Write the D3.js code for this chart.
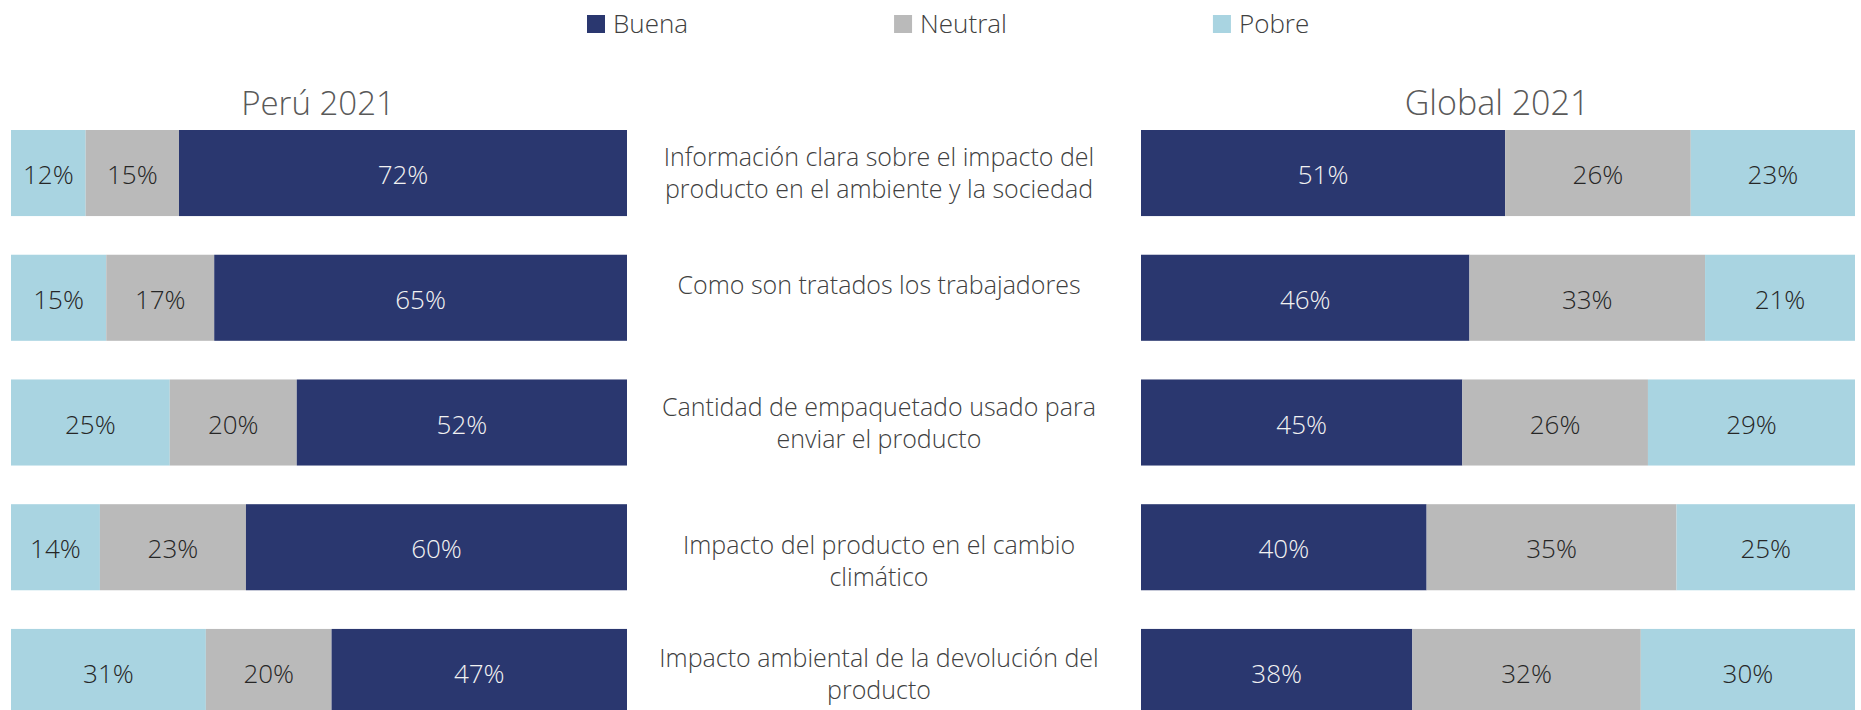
<!DOCTYPE html>
<html>
<head>
<meta charset="utf-8">
<script src="https://cdn.jsdelivr.net/npm/d3@7"></script>
<style>
  html, body { margin: 0; padding: 0; background: #ffffff; }
  svg { display: block; font-family: "Open Sans", "Noto Sans", sans-serif; font-weight: 300; }
</style>
</head>
<body>
<svg id="chart" width="1861" height="710"></svg>
<script>
// Survey rows: each statement has a label split into display lines
const categories = [
  "Información clara sobre el impacto del producto en el ambiente y la sociedad",
  "Como son tratados los trabajadores",
  "Cantidad de empaquetado usado para enviar el producto",
  "Impacto del producto en el cambio climático",
  "Impacto ambiental de la devolución del producto"
];
const categoryLines = [
  ["Información clara sobre el impacto del", "producto en el ambiente y la sociedad"],
  ["Como son tratados los trabajadores"],
  ["Cantidad de empaquetado usado para", "enviar el producto"],
  ["Impacto del producto en el cambio", "climático"],
  ["Impacto ambiental de la devolución del", "producto"]
];

const seriesNames = ["Buena", "Neutral", "Pobre"];

// Perú 2021 shares (%)
const peruBuena   = [72, 65, 52, 60, 47];
const peruNeutral = [15, 17, 20, 23, 20];
const peruPobre   = [12, 15, 25, 14, 31];

// Global 2021 shares (%)
const globalBuena   = [51, 46, 45, 40, 38];
const globalNeutral = [26, 33, 26, 35, 32];
const globalPobre   = [23, 21, 29, 25, 30];

const panelTitles = ["Perú 2021", "Global 2021"];

const colors = { Buena: "#2a376f", Neutral: "#bababa", Pobre: "#a9d4e1" };
const valueTextColor = { Buena: "#f2f2f2", Neutral: "#262626", Pobre: "#262626" };

const svg = d3.select("#chart");

const y = d3.scaleBand()
  .domain(categories)
  .range([130, 715])
  .paddingInner(0.31)
  .paddingOuter(0);

function rowsFor(buena, neutral, pobre) {
  return categories.map((c, i) => ({ category: c, Buena: buena[i], Neutral: neutral[i], Pobre: pobre[i] }));
}

// Draws one 100% stacked panel; keys give the left-to-right segment order
function drawPanel(rows, keys, x0, x1, title, titleSize) {
  const x = d3.scaleLinear().domain([0, 1]).range([x0, x1]);
  const stacked = d3.stack().keys(keys).offset(d3.stackOffsetExpand)(rows);
  const g = svg.append("g");

  const layer = g.selectAll("g.layer")
    .data(stacked)
    .join("g")
    .attr("class", "layer")
    .attr("fill", d => colors[d.key]);

  layer.selectAll("rect")
    .data(d => d.map(seg => Object.assign(seg, { key: d.key })))
    .join("rect")
    .attr("x", d => x(d[0]))
    .attr("width", d => x(d[1]) - x(d[0]))
    .attr("y", d => y(d.data.category))
    .attr("height", y.bandwidth());

  layer.selectAll("text")
    .data(d => d)
    .join("text")
    .attr("x", d => (x(d[0]) + x(d[1])) / 2)
    .attr("y", d => y(d.data.category) + y.bandwidth() / 2 + 11)
    .attr("text-anchor", "middle")
    .attr("font-size", 26)
    .attr("fill", d => valueTextColor[d.key])
    .text(d => d.data[d.key] + "%");

  g.append("text")
    .attr("x", (x0 + x1) / 2 - 1)
    .attr("y", 115)
    .attr("text-anchor", "middle")
    .attr("font-size", titleSize)
    .attr("fill", "#595959")
    .text(title);
}

drawPanel(rowsFor(peruBuena, peruNeutral, peruPobre), ["Pobre", "Neutral", "Buena"], 11, 627, panelTitles[0], 33);
drawPanel(rowsFor(globalBuena, globalNeutral, globalPobre), ["Buena", "Neutral", "Pobre"], 1141, 1855, panelTitles[1], 34);

// Statement labels in the centre column, top-aligned to each bar
const labelX = 879;
const lineGap = 32;
const labelNudge = [0, 3, 0, 14, 2];
const labels = svg.append("g")
  .selectAll("text")
  .data(categories)
  .join("text")
  .attr("text-anchor", "middle")
  .attr("font-size", 25)
  .attr("fill", "#404040");

labels.each(function(c, i) {
  const lines = categoryLines[i];
  const mid = y(c) + y.bandwidth() / 2;
  const firstBaseline = mid - 7 + labelNudge[i];
  d3.select(this).selectAll("tspan")
    .data(lines)
    .join("tspan")
    .attr("x", labelX)
    .attr("y", (l, j) => firstBaseline + j * lineGap)
    .text(l => l);
});

// Legend
const legend = svg.append("g");
let lx = 587;
seriesNames.forEach(name => {
  legend.append("rect")
    .attr("x", lx).attr("y", 15)
    .attr("width", 18).attr("height", 18)
    .attr("fill", colors[name]);
  const t = legend.append("text")
    .attr("x", lx + 26).attr("y", 33)
    .attr("font-size", 26)
    .attr("fill", "#404040")
    .text(name);
  lx += 26 + t.node().getComputedTextLength() + 206;
});
</script>
</body>
</html>
